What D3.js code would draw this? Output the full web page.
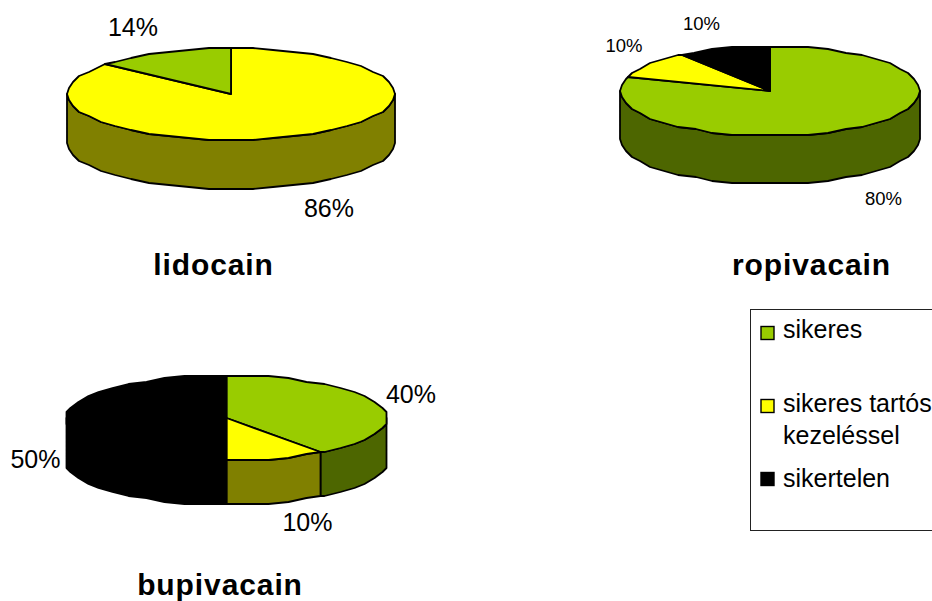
<!DOCTYPE html>
<html>
<head>
<meta charset="utf-8">
<script src="https://cdn.jsdelivr.net/npm/d3@7"></script>
<style>
  html, body { margin: 0; padding: 0; background: #fff; overflow: hidden; }
  text { font-family: "Liberation Sans", Arial, sans-serif; fill: #000; }
</style>
</head>
<body>
<svg id="chart" width="932" height="601"></svg>
<script>
// Outcome categories
const outcomes = ["sikeres", "sikeres tartós kezeléssel", "sikertelen"];
const outcomeColors = ["#99cc00", "#ffff00", "#000000"];
const outcomeSideColors = ["#4d6600", "#808000", "#000000"];

// Share of each outcome per drug, in clockwise drawing order
const lidocainOrder = [1, 0];
const lidocainValues = [86, 14];
const ropivacainOrder = [0, 1, 2];
const ropivacainValues = [80, 10, 10];
const bupivacainOrder = [0, 1, 2];
const bupivacainValues = [40, 10, 50];

const svg = d3.select("#chart");
const TAU = Math.PI * 2;
const EDGE_STEP = TAU / 48;   // rim vertices, snapped to a small raster below
const RASTER = 2;

const pies = [
  { name: "lidocain", order: lidocainOrder, values: lidocainValues,
    cx: 231, cy: 94, rx: 163.5, ry: 45.5, depth: 49,
    title: { x: 213.5, y: 274.5 },
    fontSize: 25,
    labels: [{ x: 329, y: 217 }, { x: 133, y: 36 }] },
  { name: "ropivacain", order: ropivacainOrder, values: ropivacainValues,
    cx: 770, cy: 91, rx: 150, ry: 44.7, depth: 48,
    title: { x: 811.5, y: 274.5 },
    fontSize: 18.5,
    labels: [{ x: 883.5, y: 205 }, { x: 624, y: 52 }, { x: 701.5, y: 30 }] },
  { name: "bupivacain", order: bupivacainOrder, values: bupivacainValues,
    cx: 226.5, cy: 418, rx: 160.5, ry: 42.5, depth: 44,
    title: { x: 220, y: 594.6 },
    fontSize: 25,
    labels: [{ x: 411, y: 403 }, { x: 307.5, y: 531 }, { x: 35.5, y: 468 }] }
];

// Sample angles from a0 to a1, keeping vertices on a shared angular grid
function edgeAngles(a0, a1) {
  const out = [a0];
  for (let k = Math.ceil(a0 / EDGE_STEP + 1e-6); k * EDGE_STEP < a1 - 1e-6; k++) out.push(k * EDGE_STEP);
  out.push(a1);
  return out;
}

function drawPie(p) {
  const g = svg.append("g").attr("class", "pie " + p.name);
  const x = d3.scaleLinear().domain([-1, 1]).range([p.cx - p.rx, p.cx + p.rx]);
  const y = d3.scaleLinear().domain([-1, 1]).range([p.cy + p.ry, p.cy - p.ry]);
  // Rim positions land on a small raster around the centre, which gives the stepped outline
  const snap = (v, c) => c + Math.round((v - c) / RASTER) * RASTER;
  const rim = (a, drop = 0) => [
    snap(x(Math.sin(a)), p.cx),
    snap(y(Math.cos(a)), p.cy) + drop
  ];
  const line = d3.line();

  const arcs = d3.pie().sort(null).startAngle(0).endAngle(TAU)(p.values);

  // Side walls: only the front half of the disc is visible
  arcs.forEach(d => {
    const a0 = Math.max(d.startAngle, TAU / 4);
    const a1 = Math.min(d.endAngle, TAU * 3 / 4);
    if (a1 <= a0) return;
    const angles = edgeAngles(a0, a1);
    const pts = angles.map(a => rim(a)).concat(angles.slice().reverse().map(a => rim(a, p.depth)));
    g.append("path")
      .attr("d", line(pts) + "Z")
      .attr("fill", outcomeSideColors[p.order[d.index]])
      .attr("stroke", "#000")
      .attr("stroke-width", 1.8)
      .attr("stroke-linejoin", "round");
  });

  // Top face wedges
  arcs.forEach(d => {
    const pts = [[p.cx, p.cy]].concat(edgeAngles(d.startAngle, d.endAngle).map(a => rim(a)));
    g.append("path")
      .attr("d", line(pts) + "Z")
      .attr("fill", outcomeColors[p.order[d.index]])
      .attr("stroke", "#000")
      .attr("stroke-width", 1.8)
      .attr("stroke-linejoin", "round");
  });

  // Percent labels
  g.selectAll("text.value")
    .data(p.values)
    .join("text")
    .attr("class", "value")
    .attr("x", (d, i) => p.labels[i].x)
    .attr("y", (d, i) => p.labels[i].y)
    .attr("text-anchor", "middle")
    .attr("font-size", p.fontSize)
    .text(d => d + "%");

  // Drug title
  g.append("text")
    .attr("x", p.title.x)
    .attr("y", p.title.y)
    .attr("text-anchor", "middle")
    .attr("font-size", 30)
    .attr("font-weight", "bold")
    .attr("letter-spacing", 0.9)
    .text(p.name);
}

pies.forEach(drawPie);

// Legend; the frame runs past the right edge of the page
const legend = svg.append("g").attr("class", "legend");
legend.append("rect")
  .attr("x", 750.5).attr("y", 309.5)
  .attr("width", 240).attr("height", 221)
  .attr("fill", "#fff").attr("stroke", "#222").attr("stroke-width", 1);

const legendRows = [
  { i: 0, swatchY: 326.5, lines: [["sikeres", 338]] },
  { i: 1, swatchY: 399.5, lines: [["sikeres tartós", 412], ["kezeléssel", 444]] },
  { i: 2, swatchY: 472.5, lines: [["sikertelen", 487]] }
];
legendRows.forEach(r => {
  legend.append("rect")
    .attr("x", 761).attr("y", r.swatchY)
    .attr("width", 13).attr("height", 13)
    .attr("fill", outcomeColors[r.i])
    .attr("stroke", "#000").attr("stroke-width", 1.4);
  r.lines.forEach(([t, by]) => {
    legend.append("text")
      .attr("x", 783).attr("y", by)
      .attr("font-size", 25)
      .text(t);
  });
});
</script>
</body>
</html>
